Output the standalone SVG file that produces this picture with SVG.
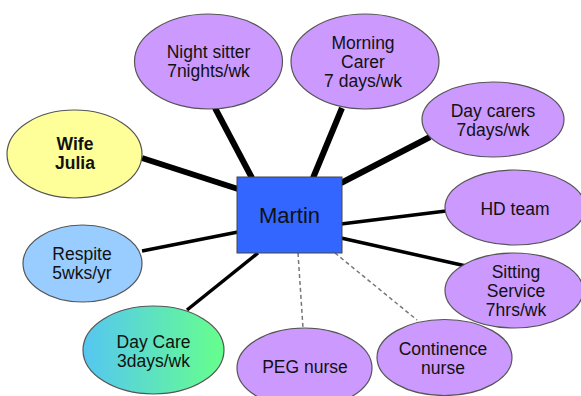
<svg xmlns="http://www.w3.org/2000/svg" width="581" height="396" viewBox="0 0 581 396">
<defs>
<linearGradient id="dcg" x1="0" y1="0" x2="1" y2="0">
<stop offset="0" stop-color="#55c6f2"/>
<stop offset="1" stop-color="#66ff8c"/>
</linearGradient>
<style>
.e{stroke:#555;stroke-width:1.2}
.p{fill:#cc99ff}
.t{font-family:"Liberation Sans",Arial,sans-serif;font-size:17.5px;fill:#111;text-anchor:middle}
.b{font-weight:bold}
.thick{stroke:#000;stroke-width:6;fill:none}
.thin{stroke:#000;stroke-width:3.5;fill:none}
.dash{stroke:#777;stroke-width:1.5;stroke-dasharray:4 3;fill:none}
</style>
</defs>
<rect width="581" height="396" fill="#fff"/>
<g id="connectors">
<line class="thick" x1="142" y1="158" x2="238" y2="189"/>
<line class="thick" x1="215" y1="108" x2="252" y2="178"/>
<line class="thick" x1="342" y1="108" x2="313" y2="178"/>
<line class="thick" x1="430" y1="137" x2="341" y2="183"/>
<line class="thin" x1="341" y1="224" x2="446" y2="211"/>
<line class="thin" x1="341" y1="238" x2="466" y2="266"/>
<line class="thin" x1="142" y1="251" x2="238" y2="232"/>
<line class="thin" x1="187" y1="310" x2="258" y2="253"/>
<line class="dash" x1="298" y1="253" x2="303" y2="328"/>
<line class="dash" x1="335" y1="253" x2="417" y2="320"/>
</g>
<g id="night-sitter">
<ellipse class="e p" cx="208.5" cy="61.5" rx="74" ry="47.5"/>
<text class="t" x="208.5" y="58">Night sitter</text>
<text class="t" x="208.5" y="77">7nights/wk</text>
</g>
<g id="morning-carer">
<ellipse class="e p" cx="365" cy="61.5" rx="74" ry="47.5"/>
<text class="t" x="363" y="49">Morning</text>
<text class="t" x="363" y="68">Carer</text>
<text class="t" x="363" y="87">7 days/wk</text>
</g>
<g id="day-carers">
<ellipse class="e p" cx="493" cy="119.5" rx="71" ry="37.5"/>
<text class="t" x="493" y="116.5">Day carers</text>
<text class="t" x="493" y="136">7days/wk</text>
</g>
<g id="wife">
<ellipse class="e" fill="#ffff99" cx="74.5" cy="154" rx="67.5" ry="44"/>
<text class="t b" x="75" y="150">Wife</text>
<text class="t b" x="75" y="169">Julia</text>
</g>
<g id="hd-team">
<ellipse class="e p" cx="515" cy="207.5" rx="70" ry="37.5"/>
<text class="t" x="515" y="215">HD team</text>
</g>
<g id="sitting-service">
<ellipse class="e p" cx="514" cy="290.5" rx="69" ry="37.5"/>
<text class="t" x="516" y="278">Sitting</text>
<text class="t" x="516" y="296.5">Service</text>
<text class="t" x="516" y="316">7hrs/wk</text>
</g>
<g id="continence-nurse">
<ellipse class="e p" cx="444.5" cy="357.5" rx="67.5" ry="38"/>
<text class="t" x="443" y="354.5">Continence</text>
<text class="t" x="443" y="373.5">nurse</text>
</g>
<g id="peg-nurse">
<ellipse class="e p" cx="304.5" cy="368" rx="67.5" ry="40"/>
<text class="t" x="305" y="373">PEG nurse</text>
</g>
<g id="respite">
<ellipse class="e" fill="#99ccff" cx="82.5" cy="263.5" rx="59.5" ry="38.5"/>
<text class="t" x="82" y="259.5">Respite</text>
<text class="t" x="82" y="278.5">5wks/yr</text>
</g>
<g id="day-care">
<ellipse class="e" fill="url(#dcg)" cx="153.5" cy="350" rx="70.5" ry="44"/>
<text class="t" x="153.5" y="348">Day Care</text>
<text class="t" x="153.5" y="367">3days/wk</text>
</g>
<g id="martin">
<rect x="237" y="177" width="105" height="76" fill="#3366ff" stroke="#444" stroke-width="1"/>
<text class="t" style="font-size:22px" x="289.5" y="223">Martin</text>
</g>
</svg>
